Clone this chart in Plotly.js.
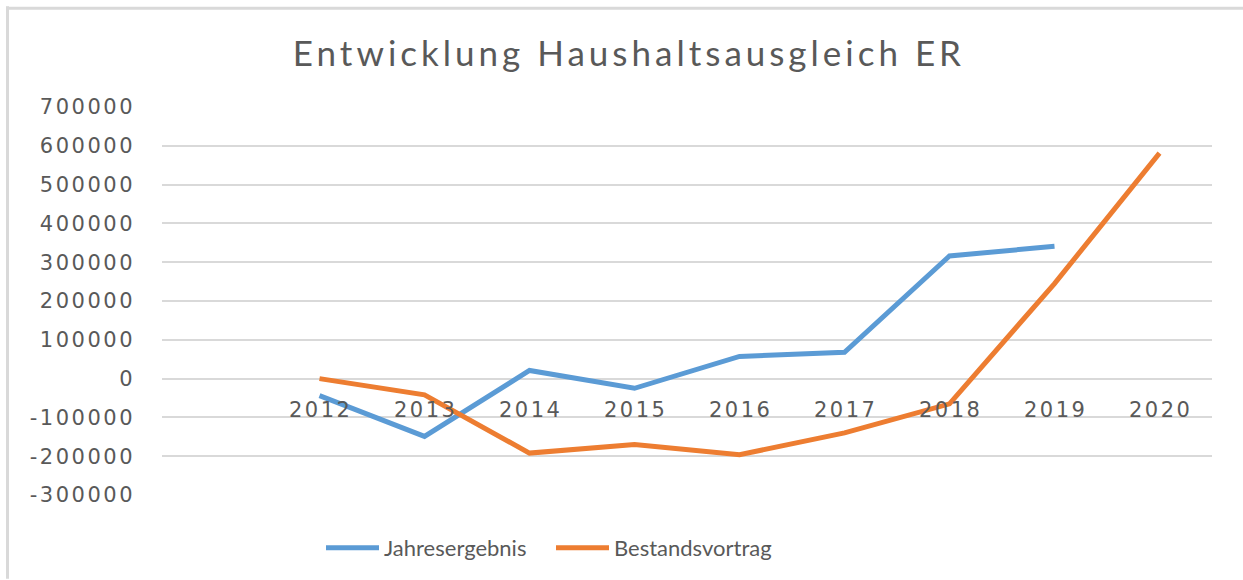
<!DOCTYPE html>
<html>
<head>
<meta charset="utf-8">
<script src="https://cdn.plot.ly/plotly-3.0.1.min.js"></script>
<style>html,body{margin:0;padding:0;background:#fff;}#chart{width:1243px;height:580px;}</style>
</head>
<body>
<div id="chart"></div>
<script>
const years = [2012, 2013, 2014, 2015, 2016, 2017, 2018, 2019, 2020];
const yearLabels = ["2012", "2013", "2014", "2015", "2016", "2017", "2018", "2019", "2020"];
const jahresergebnis = [-44000, -149000, 21000, -25000, 57000, 68000, 316000, 341000, null];
const bestandsvortrag = [0, -42000, -192000, -170000, -196000, -140000, -65000, 245000, 581000];
const yTickVals = [-300000, -200000, -100000, 0, 100000, 200000, 300000, 400000, 500000, 600000, 700000];
const yTickText = ["-300000", "-200000", "-100000", "0", "100000", "200000", "300000", "400000", "500000", "600000", "700000"];
const seriesNames = ["Jahresergebnis", "Bestandsvortrag"];
const chartTitle = "Entwicklung Haushaltsausgleich ER";

const W = 1243, H = 580;
const M = {l: 162, r: 31, t: 107, b: 84};
const pw = W - M.l - M.r, ph = H - M.t - M.b;
const px2x = p => (p - M.l) / pw;
const px2y = p => (H - M.b - p) / ph;

const gray = '#595959';
const tickFont = {family: 'DejaVu Sans', size: 21, color: gray};
const spaced = (t, s) => '<span style="letter-spacing:' + s + 'px">' + t + '</span>';

const traces = [
  {x: years, y: jahresergebnis, name: seriesNames[0], type: 'scatter', mode: 'lines',
   line: {color: '#5b9bd5', width: 5}},
  {x: years, y: bestandsvortrag, name: seriesNames[1], type: 'scatter', mode: 'lines',
   line: {color: '#ed7d31', width: 5}}
];

const annotations = years.map((yr, i) => ({
  x: yr, y: 0, xref: 'x', yref: 'y', text: spaced(yearLabels[i], 2.5), showarrow: false,
  yanchor: 'middle', yshift: -31, xshift: 1, font: tickFont
}));

const layout = {
  width: W, height: H,
  margin: M,
  paper_bgcolor: '#fff', plot_bgcolor: '#fff',
  title: {text: spaced(chartTitle, 4), font: {family: 'Lato', size: 35, color: gray},
          xref: 'container', x: 0.506, xanchor: 'center', yref: 'container', y: 1 - 54/H, yanchor: 'middle'},
  xaxis: {range: [2010.5, 2020.5], showgrid: false, zeroline: false, showticklabels: false, ticks: '', showline: false, fixedrange: true},
  yaxis: {range: [-300000, 700000], tickvals: yTickVals, ticktext: yTickText.map(t => spaced(t, 2.5)), tickfont: tickFont,
          showgrid: true, gridcolor: '#d9d9d9', gridwidth: 2, zeroline: false, showline: false,
          ticks: '', ticklabelstandoff: 26, fixedrange: true},
  showlegend: true,
  legend: {orientation: 'h', x: px2x(321), xanchor: 'left', y: px2y(548), yanchor: 'middle',
           font: {family: 'Lato', size: 22, color: gray}, itemwidth: 53, entrywidth: 162, traceorder: 'normal',
           bgcolor: 'rgba(0,0,0,0)'},
  annotations: annotations,
  shapes: [
    {type: 'line', xref: 'paper', yref: 'paper', x0: px2x(6), x1: px2x(1243), y0: px2y(8), y1: px2y(8),
     line: {color: '#d9d9d9', width: 3}},
    {type: 'line', xref: 'paper', yref: 'paper', x0: px2x(7.5), x1: px2x(7.5), y0: px2y(6), y1: px2y(580),
     line: {color: '#d9d9d9', width: 3}}
  ]
};

Plotly.newPlot('chart', traces, layout, {displayModeBar: false, staticPlot: true});
</script>
</body>
</html>
